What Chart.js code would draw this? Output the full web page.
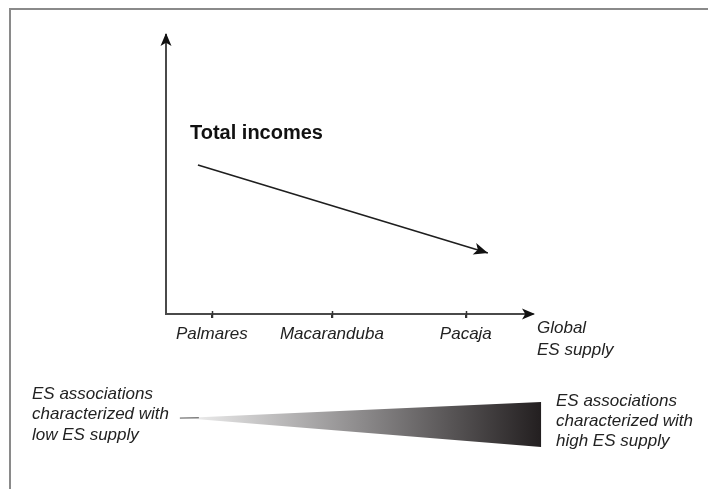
<!DOCTYPE html>
<html>
<head>
<meta charset="utf-8">
<script src="https://cdn.jsdelivr.net/npm/chart.js@4"></script>
<style>
  html, body { margin: 0; padding: 0; background: #fff; }
  #wrap { width: 708px; height: 489px; }
</style>
</head>
<body>
<div id="wrap"><canvas id="grafico" width="708" height="489"></canvas></div>
<script>
// sites along the global ES supply axis
const categories = ['Palmares', 'Macaranduba', 'Pacaja'];
const categoryPositions = [12.5, 45.2, 81.7];

// total incomes trend (decreasing)
const trendX = [8.7, 87.7];
const trendY = [53.4, 21.9];

// wedge: low -> high ES supply
const wedgeX = [4.6, 102.2, 102.2];
const wedgeY = [-37.3, -31.5, -47.7];

const seriesLabel = 'Total incomes';
const axisTitle = ['Global', 'ES supply'];
const lowText = ['ES associations', 'characterized with', 'low ES supply'];
const highText = ['ES associations', 'characterized with', 'high ES supply'];

const FONT = '"Liberation Sans", Arial, sans-serif';

function arrowHead(ctx, x, y, angle, len, half) {
  ctx.save();
  ctx.translate(x, y);
  ctx.rotate(angle);
  ctx.beginPath();
  ctx.moveTo(0, 0);
  ctx.lineTo(-len, -half);
  ctx.lineTo(-len * 0.75, 0);
  ctx.lineTo(-len, half);
  ctx.closePath();
  ctx.fill();
  ctx.restore();
}

const decoraciones = {
  id: 'decoraciones',
  beforeDraw(chart) {
    const ctx = chart.ctx;
    // frame (top and left edge only)
    ctx.save();
    ctx.fillStyle = '#8a8a8a';
    ctx.fillRect(9, 8, 699, 2);
    ctx.fillRect(9, 8, 2, 481);
    ctx.restore();
  },
  afterDraw(chart) {
    const ctx = chart.ctx;
    const x = chart.scales.x;
    const y = chart.scales.y;
    const area = chart.chartArea;

    ctx.save();
    ctx.fillStyle = '#111';
    // axis arrowheads
    arrowHead(ctx, area.left, area.top - 2, -Math.PI / 2, 13, 5.5);
    arrowHead(ctx, area.right + 2, area.bottom, 0, 13, 5.5);

    // tick marks crossing the axis
    ctx.strokeStyle = '#333';
    ctx.lineWidth = 1.5;
    x.ticks.forEach(t => {
      const px = Math.round(x.getPixelForValue(t.value)) + 0.5;
      ctx.beginPath();
      ctx.moveTo(px, area.bottom - 3);
      ctx.lineTo(px, area.bottom + 4);
      ctx.stroke();
    });

    // trend arrowhead
    const meta = chart.getDatasetMeta(0);
    const p0 = meta.data[0], p1 = meta.data[meta.data.length - 1];
    const ang = Math.atan2(p1.y - p0.y, p1.x - p0.x);
    arrowHead(ctx, p1.x, p1.y, ang, 14, 6);

    // wedge
    const pts = wedgeX.map((v, i) => [x.getPixelForValue(v), y.getPixelForValue(wedgeY[i])]);
    const grad = ctx.createLinearGradient(pts[0][0], 0, pts[1][0], 0);
    grad.addColorStop(0, '#f2f2f2');
    grad.addColorStop(0.5, '#8c8a8b');
    grad.addColorStop(1, '#231f20');
    ctx.fillStyle = grad;
    ctx.beginPath();
    ctx.moveTo(pts[0][0], pts[0][1]);
    ctx.lineTo(pts[1][0], pts[1][1]);
    ctx.lineTo(pts[2][0], pts[2][1]);
    ctx.closePath();
    ctx.fill();
    ctx.strokeStyle = 'rgba(40,40,40,0.8)';
    ctx.lineWidth = 1;
    ctx.beginPath();
    ctx.moveTo(pts[0][0] - 3, pts[0][1]);
    ctx.lineTo(pts[0][0] + 16, pts[0][1] - 0.3);
    ctx.stroke();

    // texts
    ctx.fillStyle = '#111';
    ctx.textBaseline = 'middle';
    ctx.textAlign = 'left';
    ctx.font = 'bold 20px ' + FONT;
    ctx.fillText(seriesLabel, 190, 133);

    ctx.fillStyle = '#222';
    ctx.font = 'italic 17px ' + FONT;
    ctx.fillText(axisTitle[0], 537, 328);
    ctx.fillText(axisTitle[1], 537, 350);

    lowText.forEach((t, i) => ctx.fillText(t, 32, 394 + i * 20.5));
    highText.forEach((t, i) => ctx.fillText(t, 556, 401 + i * 20));
    ctx.restore();
  }
};

const ctx = document.getElementById('grafico').getContext('2d');
new Chart(ctx, {
  type: 'line',
  data: {
    datasets: [{
      label: seriesLabel,
      data: trendX.map((v, i) => ({ x: v, y: trendY[i] })),
      borderColor: '#1e1e1e',
      borderWidth: 1.6,
      pointRadius: 0,
      fill: false
    }]
  },
  options: {
    responsive: false,
    animation: false,
    devicePixelRatio: 1,
    layout: { padding: { left: 166, top: 35, right: 175, bottom: 135 } },
    plugins: {
      legend: { display: false },
      tooltip: { enabled: false },
      title: { display: false }
    },
    scales: {
      x: {
        type: 'linear',
        min: 0,
        max: 100,
        afterFit(scale) { scale.height = 40; },
        afterBuildTicks(scale) {
          scale.ticks = categoryPositions.map(v => ({ value: v }));
        },
        grid: {
          display: true,
          drawOnChartArea: false,
          drawTicks: true,
          tickLength: 4,
          color: '#333',
          lineWidth: 1.5
        },
        border: { display: true, color: '#4a4a4a', width: 2 },
        ticks: {
          autoSkip: false,
          maxRotation: 0,
          padding: 6,
          color: '#222',
          font: { family: FONT, size: 17, style: 'italic' },
          callback: (v, i) => categories[i]
        }
      },
      y: {
        type: 'linear',
        min: 0,
        max: 100,
        afterFit(scale) { scale.width = 0; },
        grid: { display: false },
        border: { display: true, color: '#4a4a4a', width: 2 },
        ticks: { display: false }
      }
    }
  },
  plugins: [decoraciones]
});
</script>
</body>
</html>
